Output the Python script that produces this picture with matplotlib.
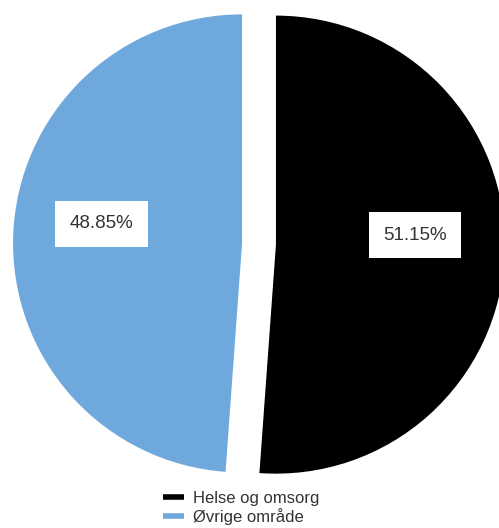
import matplotlib
matplotlib.use("Agg")
import matplotlib.pyplot as plt
from matplotlib.lines import Line2D

categories = ["Helse og omsorg", "Øvrige område"]
values = [51.15, 48.85]
colors = ["#000000", "#6fa8dc"]
label_texts = [f"{v:.2f}%" for v in values]

plt.rcParams['font.family'] = ['Liberation Sans', 'DejaVu Sans']

fig = plt.figure(figsize=(4.99, 5.28), dpi=100)
ax = fig.add_axes([0, 0, 1, 1])
ax.set_xlim(-1.131, 1.048)
ax.set_ylim(-1.240, 1.0655)
ax.set_aspect('equal', adjustable='datalim')
ax.axis('off')

wedges, _ = ax.pie(values, colors=colors, startangle=90, counterclock=False,
                   explode=[0.074, 0.074], radius=1.0, center=(0, 0),
                   wedgeprops=dict(linewidth=0))
ax.set_xlim(-1.131, 1.048)
ax.set_ylim(-1.240, 1.0655)

label_pos = [(0.681, 0.0393), (-0.687, 0.0887)]
for txt, (x, y) in zip(label_texts, label_pos):
    ax.text(x, y, txt, ha='center', va='center', fontsize=13.5, color='#333333',
            bbox=dict(boxstyle='square,pad=0.77', facecolor='white', edgecolor='none'))

handles = [Line2D([0], [0], color=c, linewidth=4, solid_capstyle='butt') for c in colors]
fig.legend(handles, categories, loc='center left', bbox_to_anchor=(0.326, 0.0383),
           frameon=False, fontsize=12, handlelength=1.3, handletextpad=0.5,
           labelspacing=0.15, borderpad=0, borderaxespad=0, labelcolor='#333333')

fig.savefig("out.png", dpi=100)
